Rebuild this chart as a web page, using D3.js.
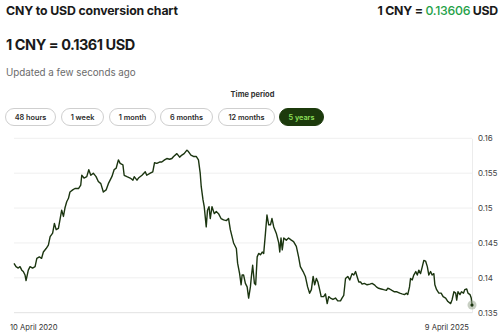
<!DOCTYPE html>
<html>
<head>
<meta charset="utf-8">
<script src="https://cdn.jsdelivr.net/npm/d3@7"></script>
<style>
  body { margin: 0; background: #fff; font-family: Inter, "Noto Sans", sans-serif; }
  svg { display: block; }
</style>
</head>
<body>
<svg id="chart" width="500" height="336"></svg>
<script>
// days after 10 April 2020, and CNY->USD rate on that day
var dayOffsets = [0, 8, 17, 24, 31, 37, 44, 48, 57, 64, 74, 84, 91, 101, 110, 117, 128, 137, 144, 154,
    161, 168, 177, 184, 190, 197, 203, 210, 217, 223, 234, 243, 257, 266, 270, 279, 290, 298, 306, 316,
    327, 336, 346, 356, 367, 376, 390, 399, 407, 416, 423, 434, 439, 450, 463, 474, 479, 490, 496, 510,
    523, 529, 543, 553, 560, 569, 580, 589, 600, 609, 620, 629, 636, 649, 660, 669, 678, 689, 695, 705,
    715, 726, 735, 742, 746, 753, 758, 766, 771, 777, 782, 789, 798, 806, 815, 825, 835, 846, 855, 862,
    875, 886, 891, 899, 905, 909, 915, 922, 929, 935, 942, 946, 951, 958, 963, 969, 975, 982, 989, 995,
    1002, 1008, 1015, 1022, 1028, 1035, 1045, 1055, 1059, 1064, 1069, 1075, 1085, 1094, 1105, 1114, 1125, 1134, 1141, 1152,
    1161, 1170, 1178, 1185, 1192, 1198, 1205, 1211, 1218, 1224, 1234, 1241, 1248, 1254, 1261, 1271, 1281, 1290, 1301, 1307,
    1314, 1321, 1330, 1338, 1347, 1354, 1361, 1367, 1374, 1381, 1387, 1396, 1407, 1418, 1427, 1436, 1444, 1453, 1463, 1473,
    1484, 1489, 1497, 1506, 1516, 1526, 1537, 1546, 1556, 1564, 1569, 1576, 1580, 1587, 1593, 1601, 1607, 1613, 1620, 1627,
    1633, 1640, 1647, 1653, 1660, 1666, 1673, 1677, 1684, 1693, 1702, 1710, 1720, 1729, 1740, 1746, 1753, 1760, 1764, 1769,
    1777, 1783, 1791, 1796, 1804, 1809, 1817, 1822, 1825]
var rates = [.14208, .1416, .1414, .1416, .1411, .1409, .1404, .1396, .1411, .1416, .1414, .1416, .1428, .1430, .1428, .1437, .1442, .1447, .1459, .1464,
    .1478, .1469, .1471, .1485, .1497, .1488, .1500, .1509, .1514, .1523, .1526, .1528, .1528, .1533, .1547, .1543, .1545, .1555, .1547, .1550,
    .1545, .1538, .1535, .1523, .1526, .1535, .1545, .1555, .1557, .1569, .1564, .1562, .1547, .1545, .1543, .1540, .1545, .1540, .1543, .1547,
    .1552, .1547, .1550, .1552, .1565, .1564, .1566, .1566, .1569, .1571, .1570, .1571, .1574, .1578, .1573, .1576, .1578, .1583, .1581, .1576,
    .1574, .1574, .1569, .1550, .1531, .1512, .1502, .1473, .1497, .1502, .1485, .1502, .1492, .1495, .1492, .1485, .1483, .1482, .1485, .1469,
    .1450, .1442, .1421, .1406, .1390, .1404, .1404, .1392, .1387, .1371, .1387, .1402, .1418, .1392, .1390, .1430, .1435, .1433, .1437, .1435,
    .1464, .1490, .1476, .1476, .1485, .1473, .1464, .1450, .1437, .1457, .1440, .1457, .1454, .1457, .1454, .1452, .1445, .1430, .1416, .1409,
    .1402, .1387, .1378, .1383, .1402, .1390, .1399, .1394, .1383, .1373, .1373, .1377, .1363, .1373, .1371, .1369, .1371, .1367, .1367, .1371,
    .1375, .1399, .1402, .1397, .1406, .1404, .1409, .1402, .1394, .1394, .1391, .1392, .1390, .1391, .1392, .1390, .1387, .1385, .1384, .1383,
    .1382, .1385, .1384, .1382, .1380, .1380, .1378, .1377, .1376, .1378, .1376, .1387, .1399, .1397, .1404, .1409, .1404, .1411, .1406, .1416,
    .1425, .1424, .1416, .1404, .1409, .1404, .1406, .1390, .1383, .1378, .1378, .1373, .1371, .1366, .1363, .1369, .1380, .1378, .1368, .1380,
    .1376, .1380, .1378, .1383, .1384, .1378, .1376, .1371, .1361]
var yTicks = [0.135, 0.14, 0.145, 0.15, 0.155, 0.16]
var periods = ['48 hours', '1 week', '1 month', '6 months', '12 months', '5 years']
var activePeriod = '5 years'
var startDate = new Date(2020, 3, 10)
var endDate = new Date(2025, 3, 9)

var svg = d3.select('#chart')

// header texts
svg.append('text').attr('x', 6).attr('y', 15)
    .attr('font-size', 12.3).attr('font-weight', 700).attr('fill', '#1a1a1a')
    .attr('letter-spacing', -0.15)
    .text('CNY to USD conversion chart')
var rightHead = svg.append('text').attr('x', 498).attr('y', 15).attr('text-anchor', 'end')
    .attr('font-size', 12.3).attr('font-weight', 700).attr('fill', '#1a1a1a')
    .attr('letter-spacing', -0.25)
rightHead.append('tspan').text('1 CNY = ')
rightHead.append('tspan').attr('fill', '#24a148').attr('font-weight', 500).text('0.13606')
rightHead.append('tspan').text(' USD')
svg.append('text').attr('x', 6).attr('y', 50)
    .attr('font-size', 14.5).attr('font-weight', 700).attr('fill', '#1a1a1a')
    .attr('letter-spacing', -0.45)
    .text('1 CNY = 0.1361 USD')
svg.append('text').attr('x', 6).attr('y', 76)
    .attr('font-size', 9.8).attr('fill', '#6b6b6b')
    .text('Updated a few seconds ago')

// time period buttons
svg.append('text').attr('x', 252.5).attr('y', 97).attr('text-anchor', 'middle')
    .attr('font-size', 7.5).attr('font-weight', 700).attr('fill', '#333')
    .text('Time period')
var btnX = [5, 61, 109, 160, 218, 279]
var btnW = [51, 43, 47, 53, 57, 45]
var btn = svg.selectAll('g.btn').data(periods).enter().append('g')
    .attr('class', 'btn')
    .attr('transform', function (d, i) { return 'translate(' + btnX[i] + ',108)' })
btn.append('rect')
    .attr('x', 0.5).attr('y', 0.5)
    .attr('width', function (d, i) { return btnW[i] - 1 })
    .attr('height', 17).attr('rx', 8.5)
    .attr('fill', function (d) { return d == activePeriod ? '#1c3a0c' : '#fff' })
    .attr('stroke', function (d) { return d == activePeriod ? '#1c3a0c' : '#cfcfcf' })
btn.append('text')
    .attr('x', function (d, i) { return btnW[i] / 2 })
    .attr('y', 11.9).attr('text-anchor', 'middle')
    .attr('font-size', 7.3).attr('font-weight', 600)
    .attr('fill', function (d) { return d == activePeriod ? '#8ee05a' : '#2a2a2a' })
    .text(function (d) { return d })

// chart
var plotLeft = 14, plotRight = 472, plotTop = 138.3, plotBottom = 312.7
var data = dayOffsets.map(function (d, i) {
    return {date: d3.timeDay.offset(startDate, d), rate: rates[i]}
})
var x = d3.scaleTime().domain([startDate, endDate]).range([plotLeft, plotRight])
var y = d3.scaleLinear().domain([0.135, 0.16]).range([plotBottom, plotTop])

svg.append('g').selectAll('line').data(yTicks).enter().append('line')
    .attr('x1', plotLeft).attr('x2', plotRight)
    .attr('y1', function (d) { return y(d) }).attr('y2', function (d) { return y(d) })
    .attr('stroke', function (d, i) { return i == 0 ? '#e2e2e2' : '#efefef' })
    .attr('stroke-width', 1)

var yAxis = svg.append('g').attr('transform', 'translate(' + plotRight + ',0)')
    .call(d3.axisRight(y).tickValues(yTicks).tickSize(0).tickPadding(6)
        .tickFormat(function (d) { return String(+d.toFixed(3)) }))
yAxis.select('.domain').attr('stroke', '#ececec')
yAxis.selectAll('text').attr('font-size', 8).attr('fill', '#444')
    .attr('font-family', 'Inter, "Noto Sans", sans-serif')

var line = d3.line()
    .x(function (d) { return x(d.date) })
    .y(function (d) { return y(d.rate) })
svg.append('path').datum(data)
    .attr('d', line)
    .attr('fill', 'none')
    .attr('stroke', '#1b3510')
    .attr('stroke-width', 1.4)
    .attr('stroke-linejoin', 'round')

var last = data[data.length - 1]
svg.append('circle').attr('cx', x(last.date)).attr('cy', y(last.rate))
    .attr('r', 4.5).attr('fill', '#9aa892').attr('opacity', 0.55)
svg.append('circle').attr('cx', x(last.date)).attr('cy', y(last.rate))
    .attr('r', 1.6).attr('fill', '#1b3510')

// date labels
svg.append('text').attr('x', 10).attr('y', 330)
    .attr('font-size', 7.6).attr('fill', '#333')
    .text('10 April 2020')
svg.append('text').attr('x', 469).attr('y', 330).attr('text-anchor', 'end')
    .attr('font-size', 7.6).attr('fill', '#333')
    .text('9 April 2025')
</script>
</body>
</html>
